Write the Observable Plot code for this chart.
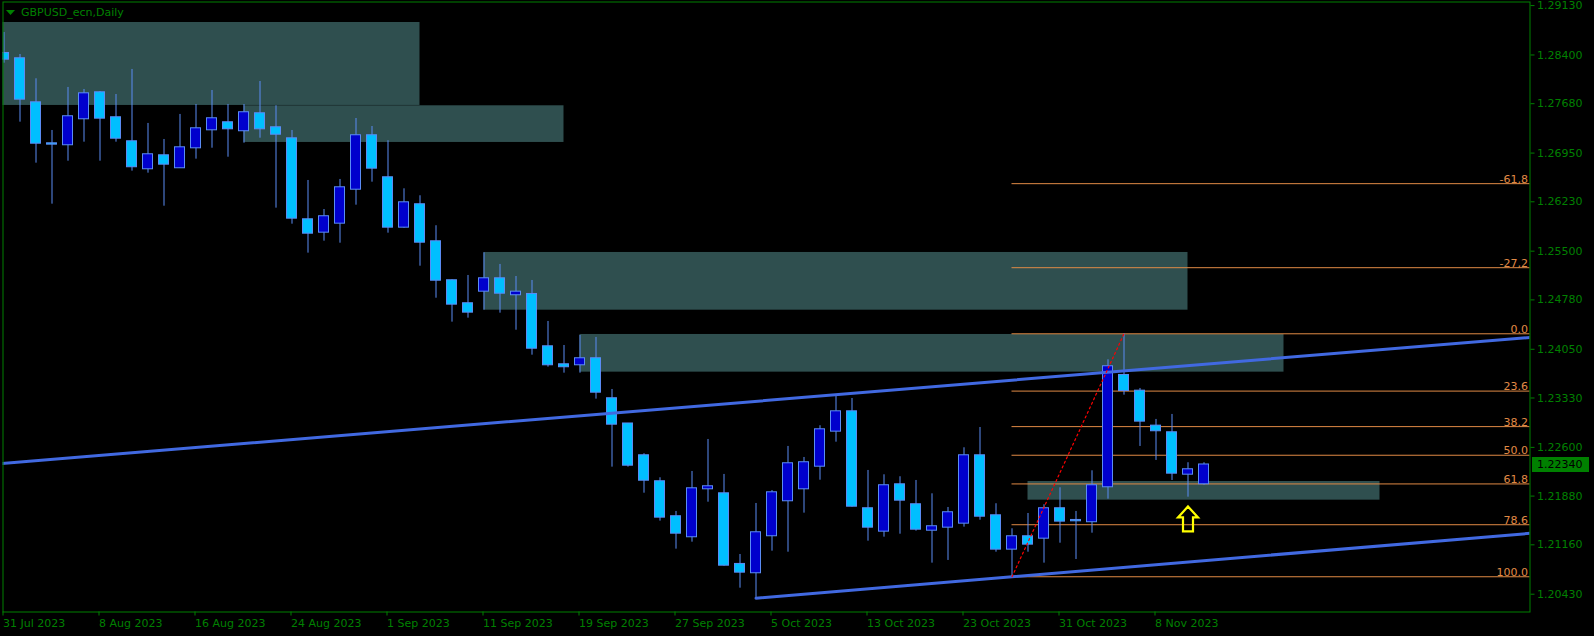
<!DOCTYPE html>
<html><head><meta charset="utf-8">
<script src="https://cdn.jsdelivr.net/npm/d3@7"></script>
<script src="https://cdn.jsdelivr.net/npm/@observablehq/plot@0.6"></script>
<style>
html,body{margin:0;padding:0;background:#000;overflow:hidden;}
#chart{width:1594px;height:636px;}
</style></head><body><div id="chart"></div>
<script>
// ---- Data (GBPUSD_ecn, Daily) ----
const dates = ["2023-07-31","2023-08-01","2023-08-02","2023-08-03","2023-08-04","2023-08-07","2023-08-08","2023-08-09","2023-08-10","2023-08-11",
"2023-08-14","2023-08-15","2023-08-16","2023-08-17","2023-08-18","2023-08-21","2023-08-22","2023-08-23","2023-08-24","2023-08-25",
"2023-08-28","2023-08-29","2023-08-30","2023-08-31","2023-09-01","2023-09-04","2023-09-05","2023-09-06","2023-09-07","2023-09-08",
"2023-09-11","2023-09-12","2023-09-13","2023-09-14","2023-09-15","2023-09-18","2023-09-19","2023-09-20","2023-09-21","2023-09-22",
"2023-09-25","2023-09-26","2023-09-27","2023-09-28","2023-09-29","2023-10-02","2023-10-03","2023-10-04","2023-10-05","2023-10-06",
"2023-10-09","2023-10-10","2023-10-11","2023-10-12","2023-10-13","2023-10-16","2023-10-17","2023-10-18","2023-10-19","2023-10-20",
"2023-10-23","2023-10-24","2023-10-25","2023-10-26","2023-10-27","2023-10-30","2023-10-31","2023-11-01","2023-11-02","2023-11-03",
"2023-11-06","2023-11-07","2023-11-08","2023-11-09","2023-11-10","2023-11-13"];
const open = [1.28422,1.28344,1.27693,1.27087,1.27073,1.27457,1.27841,1.27472,1.27117,1.26718,
1.26910,1.26733,1.27028,1.27294,1.27398,1.27280,1.27531,1.27324,1.27161,1.25964,
1.25781,1.25914,1.26416,1.27206,1.26585,1.25855,1.26186,1.25639,1.25063,1.24723,
1.24909,1.25092,1.24856,1.24860,1.24087,1.23821,1.23821,1.23910,1.23319,1.22946,
1.22476,1.22092,1.21575,1.21279,1.21988,1.21914,1.20870,1.20747,1.21294,1.21811,
1.21988,1.22322,1.22840,1.23126,1.21693,1.21362,1.22047,1.21752,1.21376,1.21421,
1.21480,1.22476,1.21589,1.21096,1.21279,1.21258,1.21693,1.21520,1.21501,1.22018,
1.23663,1.23431,1.22914,1.22816,1.22204,1.22062];
const high = [1.28732,1.28407,1.28048,1.27284,1.27920,1.27890,1.27860,1.27816,1.28186,1.27388,
1.27151,1.27521,1.27668,1.27875,1.27668,1.27668,1.28008,1.27649,1.27284,1.26545,
1.26116,1.26560,1.27461,1.27343,1.27132,1.26422,1.26319,1.25876,1.25077,1.25141,
1.25476,1.25304,1.25126,1.25067,1.24461,1.24106,1.24254,1.24225,1.23456,1.22954,
1.22506,1.22151,1.21653,1.22244,1.22717,1.22200,1.21017,1.21771,1.21963,1.22614,
1.22451,1.22920,1.23353,1.23323,1.22259,1.22195,1.22166,1.22111,1.21914,1.21712,
1.22594,1.22894,1.21767,1.21397,1.21623,1.21752,1.22003,1.21653,1.22254,1.23895,
1.24279,1.23471,1.23013,1.23087,1.22373,1.22373];
const low = [1.28279,1.27407,1.26801,1.26195,1.26830,1.27111,1.26830,1.27111,1.26683,1.26653,
1.26165,1.26727,1.26860,1.27022,1.26889,1.27096,1.27170,1.26136,1.25899,1.25471,
1.25648,1.25618,1.26180,1.26520,1.25766,1.25840,1.25278,1.24805,1.24451,1.24510,
1.24628,1.24584,1.24332,1.23963,1.23786,1.23697,1.23697,1.23313,1.22308,1.22308,
1.21923,1.21510,1.21096,1.21199,1.21790,1.20844,1.20519,1.20371,1.21066,1.21051,
1.21628,1.22115,1.22677,1.21716,1.21214,1.21273,1.21317,1.21362,1.20889,1.20929,
1.21421,1.21524,1.21051,1.20688,1.21051,1.20889,1.21184,1.20943,1.21332,1.21835,
1.23372,1.22614,1.22407,1.22111,1.21864,1.22042];
const close = [1.28338,1.27747,1.27096,1.27082,1.27487,1.27826,1.27466,1.27170,1.26748,1.26925,
1.26786,1.27028,1.27309,1.27457,1.27309,1.27546,1.27309,1.27229,1.25988,1.25766,
1.26009,1.26437,1.27206,1.26727,1.25855,1.26215,1.25633,1.25071,1.24717,1.24599,
1.25092,1.24879,1.24894,1.24066,1.23821,1.23792,1.23910,1.23416,1.22943,1.22337,
1.22115,1.21569,1.21332,1.21988,1.22018,1.20859,1.20756,1.21338,1.21929,1.22358,
1.22373,1.22860,1.23126,1.21731,1.21421,1.22033,1.21820,1.21391,1.21427,1.21634,
1.22476,1.21583,1.21096,1.21279,1.21170,1.21693,1.21510,1.21515,1.22033,1.23792,
1.23441,1.22988,1.22846,1.22219,1.22269,1.22340];

const tickIdx = [0,6,12,18,24,30,36,42,48,54,60,66,72];
const tickLabels = ["31 Jul 2023","8 Aug 2023","16 Aug 2023","24 Aug 2023","1 Sep 2023","11 Sep 2023","19 Sep 2023",
"27 Sep 2023","5 Oct 2023","13 Oct 2023","23 Oct 2023","31 Oct 2023","8 Nov 2023"];
const yTicks = [1.29130,1.28400,1.27680,1.26950,1.26230,1.25500,1.24780,1.24050,1.23330,1.22600,1.21880,1.21160,1.20430];

// supply/demand zones (bar index range, price range)
const zoneX1 = [-1, 15, 30, 36, 64];
const zoneX2 = [26, 35, 74, 80, 86];
const zoneTop = [1.28880, 1.27649, 1.25481, 1.24269, 1.22096];
const zoneBottom = [1.27654, 1.27107, 1.24628, 1.23712, 1.21820];

// Fibonacci retracement
const fibLabels = ["-61,8","-27,2","0.0","23.6","38.2","50.0","61.8","78.6","100.0"];
const fibPrices = [1.26498,1.25256,1.24279,1.23432,1.22907,1.22484,1.22060,1.21457,1.20688];
const fibStart = 63;
const fibAnchorX = [63, 70];
const fibAnchorY = [1.20688, 1.24279];

// trend lines
const trendUpperX = [-1, 96];
const trendUpperY = [1.22344, 1.24238];
const trendLowerX = [47, 96];
const trendLowerY = [1.20371, 1.21342];

// arrow marker
const arrowX = [74];
const arrowY = [1.21542];

const lastPrice = 1.22340;
const title = "GBPUSD_ecn,Daily";

// ---- Styles ----
const GREEN = "#008000";
const BULL = "#0000CD";
const BEAR = "#00BFFF";
const WICK = "#5b8cf4";
const ZONE = "#2F4F4F";
const FIB = "#e08a45";
const TREND = "#4169E1";

const candles = dates.map((d, i) => ({i, date: d, open: open[i], high: high[i], low: low[i], close: close[i]}));
const zones = zoneX1.map((x, k) => ({x1: x, x2: zoneX2[k], top: zoneTop[k], bottom: zoneBottom[k]}));
const fibs = fibLabels.map((l, k) => ({label: l, price: fibPrices[k]}));
const upper = trendUpperX.map((x, k) => ({x, y: trendUpperY[k]}));
const lower = trendLowerX.map((x, k) => ({x, y: trendLowerY[k]}));
const fibDiag = fibAnchorX.map((x, k) => ({x, y: fibAnchorY[k]}));
const arrows = arrowX.map((x, k) => ({x, y: arrowY[k]}));

const arrowSymbol = {
  draw(ctx) {
    ctx.moveTo(0, -12.5);
    ctx.lineTo(10, -1.5);
    ctx.lineTo(5, -1.5);
    ctx.lineTo(5, 12.5);
    ctx.lineTo(-5, 12.5);
    ctx.lineTo(-5, -1.5);
    ctx.lineTo(-10, -1.5);
    ctx.closePath();
  }
};

const chart = Plot.plot({
  width: 1594,
  height: 636,
  marginLeft: 2.5,
  marginTop: 1.5,
  marginRight: 64.5,
  marginBottom: 24.5,
  style: {background: "#000", color: GREEN, fontFamily: "DejaVu Sans", fontSize: "11px"},
  x: {domain: [-0.0625, 95.375], axis: null},
  y: {domain: [1.20167, 1.29183], axis: null},
  color: {type: "identity"},
  marks: [
    Plot.rect(zones, {x1: "x1", x2: "x2", y1: "bottom", y2: "top", fill: ZONE, clip: true}),
    Plot.ruleY(fibs, {y: "price", x1: fibStart, x2: 96, stroke: FIB, strokeWidth: 1, clip: true}),
    Plot.ruleX(candles, {x: "i", y1: "low", y2: "high", stroke: WICK, strokeWidth: 1, clip: true}),
    Plot.rect(candles, {
      x1: d => d.i - 0.3125, x2: d => d.i + 0.3125,
      y1: "open", y2: "close",
      insetTop: -0.5, insetBottom: -0.5,
      fill: d => d.close >= d.open ? BULL : BEAR,
      stroke: WICK, strokeWidth: 1, clip: true
    }),
    Plot.text(fibs, {y: "price", text: "label", frameAnchor: "right", textAnchor: "end", lineAnchor: "bottom", dx: -2, dy: -1, fill: FIB}),
    Plot.line(upper, {x: "x", y: "y", stroke: TREND, strokeWidth: 3, clip: true}),
    Plot.line(lower, {x: "x", y: "y", stroke: TREND, strokeWidth: 3, clip: true}),
    Plot.line(fibDiag, {x: "x", y: "y", stroke: "#ff0000", strokeWidth: 1.2, strokeDasharray: "2,3", clip: true}),
    Plot.dot(arrows, {x: "x", y: "y", symbol: arrowSymbol, stroke: "#ffff00", strokeWidth: 2.2, fill: "none", r: 10}),
    Plot.axisX({ticks: tickIdx, tickFormat: d => tickLabels[tickIdx.indexOf(d)], tickSize: 4, tickPadding: 3,
      textAnchor: "start", dx: -1, label: null}),
    Plot.axisY({anchor: "right", ticks: yTicks, tickFormat: d => d.toFixed(5), tickSize: 4, tickPadding: 3, label: null}),
    Plot.text([title], {text: d => d, frameAnchor: "top-left", textAnchor: "start", lineAnchor: "top", dx: 18, dy: 6, fill: GREEN}),
    Plot.frame({stroke: GREEN})
  ]
});

document.getElementById("chart").appendChild(chart);

// current price box on the price axis, title triangle
const svg = d3.select(chart);
const yPos = chart.scale("y").apply(lastPrice);
const g = svg.append("g");
g.append("rect").attr("x", 1532).attr("y", Math.round(yPos) - 7).attr("width", 57).attr("height", 15).attr("fill", GREEN);
g.append("text").attr("x", 1537).attr("y", yPos).attr("dy", "0.32em").attr("fill", "#000")
  .attr("text-anchor", "start")
  .attr("font-family", "DejaVu Sans").attr("font-size", 11).text(lastPrice.toFixed(5));
svg.append("path").attr("d", "M6,10 L15,10 L10.5,15 Z").attr("fill", GREEN);
</script>
</body></html>
